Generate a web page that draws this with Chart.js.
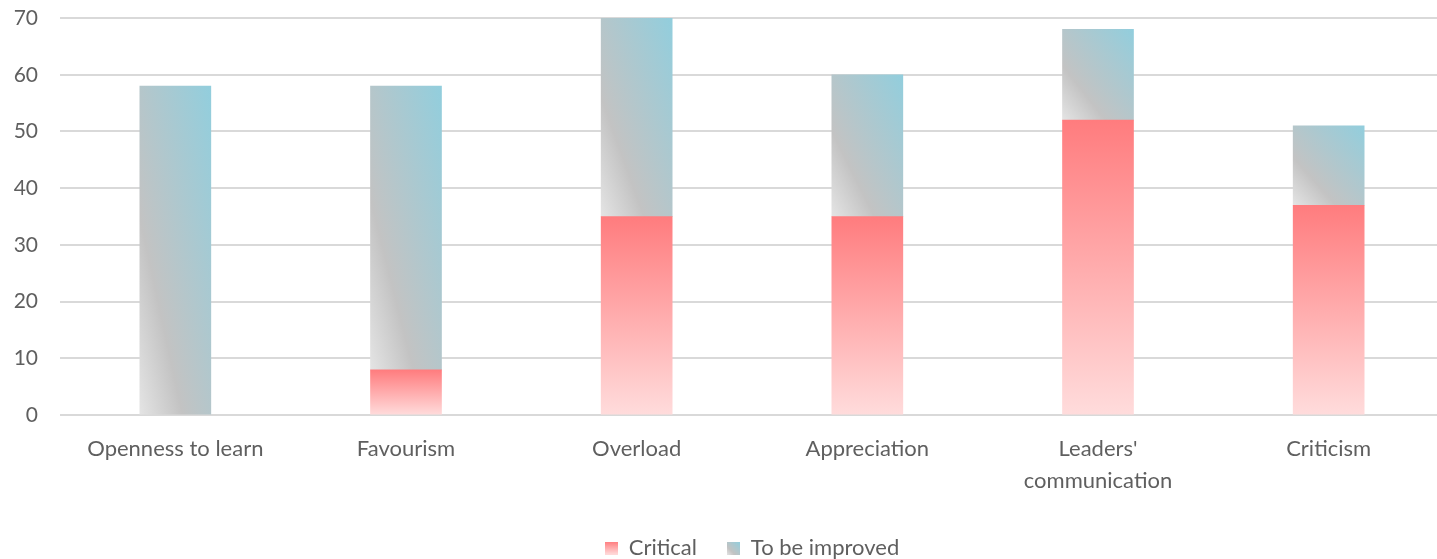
<!DOCTYPE html>
<html>
<head>
<meta charset="utf-8">
<script src="https://cdn.jsdelivr.net/npm/chart.js@4/dist/chart.umd.min.js"></script>
<style>
  html, body { margin: 0; padding: 0; background: #fff; overflow: hidden; }
  #chart { display: block; }
</style>
</head>
<body>
<canvas id="chart" width="1444" height="559"></canvas>
<script>
const categories = ['Openness to learn', 'Favourism', 'Overload', 'Appreciation', ["Leaders'", 'communication'], 'Criticism'];
const critical = [0, 8, 35, 35, 52, 37];
const toBeImproved = [58, 50, 35, 25, 16, 14];
const yTicks = [0, 10, 20, 30, 40, 50, 60, 70];

const BAR_W = 71;
const TEXT = '#5f5f5f';
const FONT = 'Lato, "Open Sans", sans-serif';

// red: darker at the top, fading to pale pink at the base
function redGradient(g, left, top, w, h) {
  const grad = g.createLinearGradient(0, top, 0, top + h);
  grad.addColorStop(0, '#ff7c7e');
  grad.addColorStop(1, '#ffdcdc');
  return grad;
}

// blue-grey: diagonal from bottom-left (light grey) to top-right (light blue)
function blueGradient(g, left, top, w, h) {
  const cx = left + w / 2, cy = top + h / 2;
  const k = (w * h) / (w * w + h * h);
  const grad = g.createLinearGradient(cx - h * k, cy + w * k, cx + h * k, cy - w * k);
  grad.addColorStop(0, '#e4e4e4');
  grad.addColorStop(0.3, '#c3c3c3');
  grad.addColorStop(1, '#92cedd');
  return grad;
}

function segmentFill(ctx) {
  const chart = ctx.chart;
  const x = chart.scales.x, y = chart.scales.y;
  if (!x || !y || ctx.dataIndex === undefined) return '#ccc';
  const i = ctx.dataIndex;
  const lo = ctx.datasetIndex === 0 ? 0 : critical[i];
  const hi = ctx.datasetIndex === 0 ? critical[i] : critical[i] + toBeImproved[i];
  const top = y.getPixelForValue(hi);
  const bottom = y.getPixelForValue(lo);
  const left = x.getPixelForValue(i) - BAR_W / 2;
  const h = Math.max(bottom - top, 1);
  return ctx.datasetIndex === 0
    ? redGradient(chart.ctx, left, top, BAR_W, h)
    : blueGradient(chart.ctx, left, top, BAR_W, h);
}

function swatch(fillFn) {
  const c = document.createElement('canvas');
  c.width = 13; c.height = 13;
  const g = c.getContext('2d');
  g.fillStyle = fillFn(g, 0, 0, 13, 13);
  g.fillRect(0, 0, 13, 13);
  return c;
}
const swatches = [swatch(redGradient), swatch(blueGradient)];

new Chart(document.getElementById('chart'), {
  type: 'bar',
  data: {
    labels: categories,
    datasets: [
      // zero-height segments are left out so nothing shows at the base
      { label: 'Critical', data: critical.map(v => v || null), backgroundColor: segmentFill, barThickness: BAR_W },
      { label: 'To be improved', data: toBeImproved, backgroundColor: segmentFill, barThickness: BAR_W }
    ]
  },
  options: {
    responsive: false,
    animation: false,
    devicePixelRatio: 1,
    layout: { padding: { top: 18, left: 0, right: 0, bottom: -10 } },
    scales: {
      x: {
        stacked: true,
        grid: { display: false },
        border: { display: false },
        ticks: { color: TEXT, font: { family: FONT, size: 22, lineHeight: 1.45 }, padding: 10, maxRotation: 0 }
      },
      y: {
        stacked: true,
        min: 0,
        max: 70,
        afterBuildTicks: scale => { scale.ticks = yTicks.map(v => ({ value: v })); },
        afterFit: scale => { scale.width = 60; },
        // invisible tick marks keep the labels clear of the grid
        grid: { color: '#d9d9d9', lineWidth: 2, drawTicks: true, tickLength: 20, tickColor: 'rgba(0,0,0,0)' },
        border: { display: false },
        ticks: { color: TEXT, font: { family: FONT, size: 21 }, padding: 2 }
      }
    },
    plugins: {
      legend: {
        position: 'bottom',
        fullSize: false,
        labels: {
          usePointStyle: true,
          boxWidth: 13,
          boxHeight: 13,
          color: TEXT,
          font: { family: FONT, size: 22 },
          padding: 30,
          generateLabels: chart => chart.data.datasets.map((ds, i) => ({
            text: ds.label,
            pointStyle: swatches[i],
            datasetIndex: i,
            fontColor: TEXT,
            lineWidth: 0,
            hidden: false
          }))
        }
      },
      tooltip: { enabled: false }
    }
  }
});
</script>
</body>
</html>
